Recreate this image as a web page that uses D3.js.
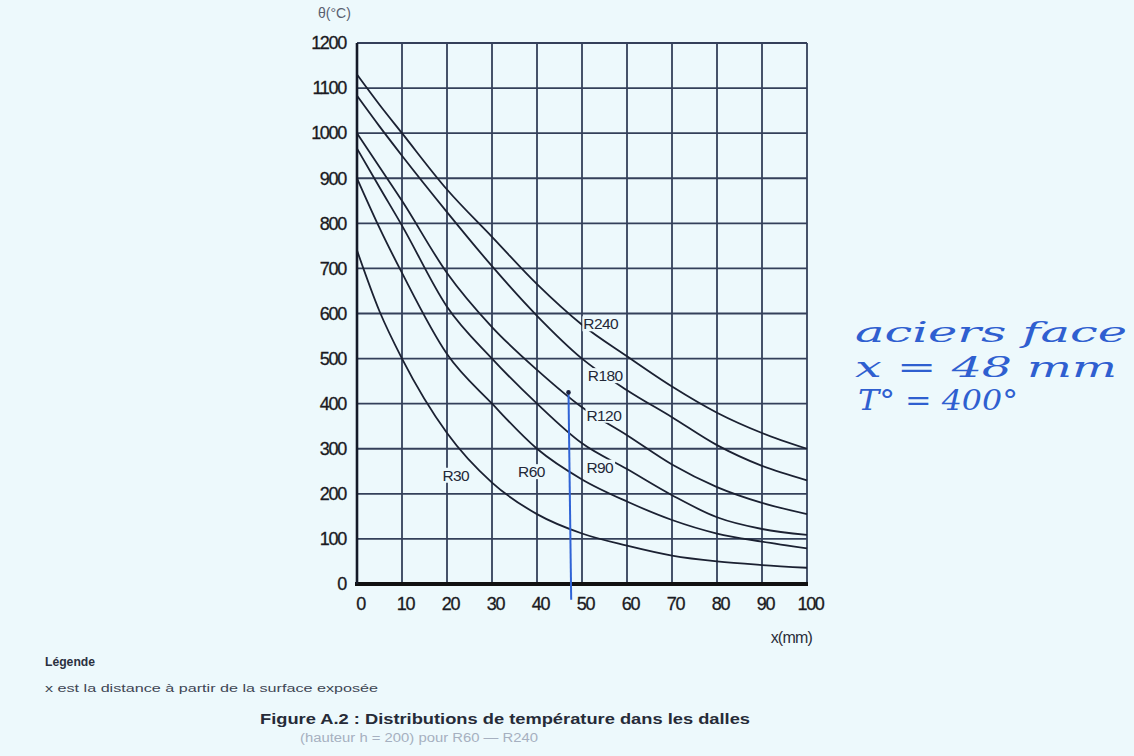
<!DOCTYPE html>
<html>
<head>
<meta charset="utf-8">
<script src="https://cdn.jsdelivr.net/npm/d3@7/dist/d3.min.js"></script>
<style>
  html, body { margin: 0; padding: 0; background: #edf9fc; }
  svg { display: block; }
</style>
</head>
<body>
<svg id="chart" width="1134" height="756"></svg>
<script>
// ---- data ----
const xTicks = [0, 10, 20, 30, 40, 50, 60, 70, 80, 90, 100];
const yTicks = [0, 100, 200, 300, 400, 500, 600, 700, 800, 900, 1000, 1100, 1200];
const xs = [0, 5, 10, 20, 30, 40, 50, 60, 70, 80, 90, 100];
const seriesNames = ["R240", "R180", "R120", "R90", "R60", "R30"];
const r240 = [1130, 1063, 1000, 875, 770, 665, 575, 505, 438, 380, 335, 300];
const r180 = [1083, 1015, 950, 825, 705, 595, 500, 430, 370, 308, 262, 230];
const r120 = [1000, 925, 850, 690, 570, 475, 392, 330, 265, 215, 180, 155];
const r90  = [966, 880, 795, 615, 500, 400, 312, 255, 197, 148, 122, 109];
const r60  = [900, 790, 690, 510, 400, 300, 232, 183, 142, 112, 94, 79];
const r30  = [740, 605, 500, 335, 225, 155, 112, 85, 63, 50, 42, 36];
const seriesValues = [r240, r180, r120, r90, r60, r30];
// label anchor (x, y in data units)
const labelX = [50.3, 51.3, 51.0, 51.0, 35.8, 19.0];
const labelY = [565, 450, 362, 247, 237, 229];
// annotation
const steelX = [47.0, 47.6];
const steelY = [425, -35];

// ---- layout ----
const svg = d3.select("#chart");
const padL = 357, padR = 807, padT = 43, padB = 584;
const x = d3.scaleLinear().domain([0, 100]).range([padL, padR]);
const y = d3.scaleLinear().domain([0, 1200]).range([padB, padT]);
const gridColor = "#34405a";
const inkColor = "#1b2132";
const bg = "#edf9fc";
const sans = "Liberation Sans, Arial, sans-serif";

svg.append("rect").attr("width", 1134).attr("height", 756).attr("fill", bg);

// grid
const g = svg.append("g");
g.selectAll("line.v").data(xTicks).join("line")
  .attr("x1", d => x(d)).attr("x2", d => x(d))
  .attr("y1", y(1200)).attr("y2", y(0))
  .attr("stroke", gridColor).attr("stroke-width", 1.8);
g.selectAll("line.h").data(yTicks.filter(d => d > 0)).join("line")
  .attr("x1", x(0)).attr("x2", x(100))
  .attr("y1", d => y(d)).attr("y2", d => y(d))
  .attr("stroke", gridColor).attr("stroke-width", 1.8);

// curves
const line = d3.line().x((d, i) => x(xs[i])).y(d => y(d)).curve(d3.curveMonotoneX);
svg.append("g").selectAll("path").data(seriesValues).join("path")
  .attr("d", d => line(d))
  .attr("fill", "none").attr("stroke", inkColor).attr("stroke-width", 1.8);

// axes (thick baseline & left)
svg.append("line").attr("x1", x(0) - 2).attr("x2", x(100) + 1).attr("y1", y(0)).attr("y2", y(0))
  .attr("stroke", "#111").attr("stroke-width", 4);
svg.append("line").attr("x1", x(0)).attr("x2", x(0)).attr("y1", y(1200)).attr("y2", y(0))
  .attr("stroke", "#151a28").attr("stroke-width", 2.6);

// axes tick labels via d3 axes
const yAxis = d3.axisLeft(y).tickValues(yTicks).tickSize(0).tickPadding(11).tickFormat(d3.format("d"));
const yg = svg.append("g").attr("transform", `translate(${padL},0)`).call(yAxis);
yg.select(".domain").remove();
yg.selectAll("text").attr("font-family", sans)
  .attr("font-size", 18).attr("fill", "#1a1a22").attr("letter-spacing", -1.3)
  .attr("stroke", "#1a1a22").attr("stroke-width", 0.3);

const xAxis = d3.axisBottom(x).tickValues(xTicks).tickSize(0).tickPadding(13).tickFormat(d3.format("d"));
const xg = svg.append("g").attr("transform", `translate(3,${padB})`).call(xAxis);
xg.select(".domain").remove();
xg.selectAll("text").attr("font-family", sans)
  .attr("font-size", 18).attr("fill", "#1a1a22").attr("letter-spacing", -1.3)
  .attr("stroke", "#1a1a22").attr("stroke-width", 0.3);

// curve labels with knock-out background
const lab = svg.append("g");
seriesNames.forEach((name, i) => {
  const t = lab.append("text").text(name)
    .attr("x", x(labelX[i])).attr("y", y(labelY[i]))
    .attr("font-family", sans)
    .attr("font-size", 15.5).attr("letter-spacing", -0.6).attr("fill", "#232838");
  const bb = t.node().getBBox();
  lab.insert("rect", "text").attr("x", bb.x - 1).attr("y", bb.y + 1)
    .attr("width", bb.width + 2).attr("height", bb.height - 2).attr("fill", bg);
});

// axis titles
svg.append("text").text("θ(°C)").attr("x", 318).attr("y", 18)
  .attr("font-family", sans).attr("font-size", 14).attr("fill", "#5a6070");
svg.append("text").text("x(mm)").attr("x", 812).attr("y", 643).attr("text-anchor", "end")
  .attr("font-family", sans).attr("font-size", 16)
  .attr("letter-spacing", -0.8).attr("fill", "#2a2e3a");

// blue annotation line
svg.append("line")
  .attr("x1", x(steelX[0])).attr("y1", y(steelY[0]))
  .attr("x2", x(steelX[1])).attr("y2", y(steelY[1]))
  .attr("stroke", "#2f63d6").attr("stroke-width", 2);
svg.append("circle").attr("cx", x(steelX[0])).attr("cy", y(steelY[0])).attr("r", 2.3).attr("fill", "#1b2240");

// legend & caption
svg.append("text").text("Légende").attr("x", 45).attr("y", 666)
  .attr("font-family", sans).attr("font-size", 12).attr("font-weight", "bold").attr("fill", "#2a3040")
  .attr("textLength", 50).attr("lengthAdjust", "spacingAndGlyphs");
svg.append("text").text("x est la distance à partir de la surface exposée").attr("x", 45).attr("y", 692)
  .attr("font-family", sans).attr("font-size", 11.5).attr("fill", "#404654")
  .attr("textLength", 333).attr("lengthAdjust", "spacingAndGlyphs");
svg.append("text").text("Figure A.2 : Distributions de température dans les dalles").attr("x", 260).attr("y", 724)
  .attr("font-family", sans).attr("font-size", 15).attr("font-weight", "bold").attr("fill", "#262b38")
  .attr("textLength", 490).attr("lengthAdjust", "spacingAndGlyphs");
svg.append("text").text("(hauteur h = 200) pour R60 — R240").attr("x", 300).attr("y", 742)
  .attr("font-family", sans).attr("font-size", 12.5).attr("fill", "#a6b0c0")
  .attr("textLength", 238).attr("lengthAdjust", "spacingAndGlyphs");

// handwritten note
const hand = "DejaVu Serif, serif";
const note = [["aciers face", 855, 342, 272], ["x = 48 mm", 855, 377, 262], ["T° = 400°", 858, 410, 160]];
note.forEach(([t, nx, ny, len]) => {
  svg.append("text").text(t).attr("x", nx).attr("y", ny)
    .attr("font-family", hand).attr("font-style", "italic").attr("font-size", 28)
    .attr("textLength", len).attr("lengthAdjust", "spacingAndGlyphs").attr("fill", "#2f5fd0");
});
</script>
</body>
</html>
